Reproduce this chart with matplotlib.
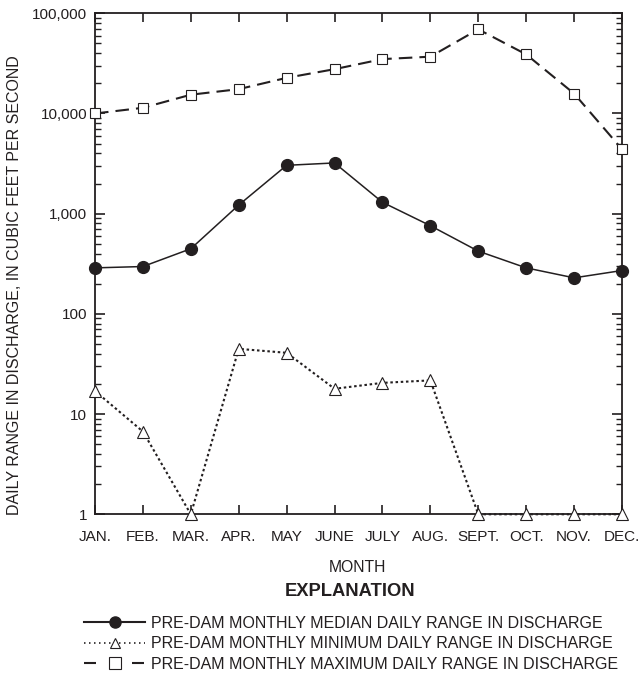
import matplotlib
matplotlib.use("Agg")
import matplotlib.pyplot as plt
from matplotlib.lines import Line2D
from matplotlib.ticker import FixedLocator, LogLocator, NullFormatter

plt.rcParams['font.family'] = ['Liberation Sans', 'DejaVu Sans']

months = ["JAN.", "FEB.", "MAR.", "APR.", "MAY", "JUNE", "JULY", "AUG.",
          "SEPT.", "OCT.", "NOV.", "DEC."]
median_range = [288, 297, 447, 1220, 3040, 3210, 1300, 759, 423, 288, 229, 271]
minimum_range = [17, 6.7, 1, 44.8, 40.9, 17.9, 20.5, 21.7, 1, 1, 1, 1]
maximum_range = [10000, 11400, 15400, 17500, 22700, 27700, 34900, 36900,
                 69200, 38900, 15800, 4400]
ytick_values = [1, 10, 100, 1000, 10000, 100000]
ytick_labels = ["1", "10", "100", "1,000", "10,000", "100,000"]
legend_labels = ["PRE-DAM MONTHLY MEDIAN DAILY RANGE IN DISCHARGE",
                 "PRE-DAM MONTHLY MINIMUM DAILY RANGE IN DISCHARGE",
                 "PRE-DAM MONTHLY MAXIMUM DAILY RANGE IN DISCHARGE"]

INK = '#231f20'
W, H = 641, 678
fig = plt.figure(figsize=(W / 100, H / 100), dpi=100)
ax = fig.add_axes([95 / W, 1 - 514.3 / H, (622 - 95) / W, (514.3 - 13.3) / H])

x = list(range(len(months)))

ax.plot(x, maximum_range, color=INK, lw=1.5, dashes=(6.5, 3.4),
        marker='s', ms=7.8, mfc='white', mec=INK, mew=0.8, clip_on=False, zorder=3)
ax.plot(x, median_range, color=INK, lw=1.1, linestyle='-',
        marker='o', ms=8.5, mfc=INK, mec=INK, clip_on=False, zorder=4)
ax.plot(x, minimum_range, color=INK, lw=1.5, dashes=(1.2, 1.3),
        marker='^', ms=8.5, mfc='white', mec=INK, mew=0.8, clip_on=False, zorder=5)

ax.set_yscale('log')
ax.set_ylim(1, 100000)
ax.set_xlim(0, len(months) - 1)
ax.yaxis.set_major_locator(FixedLocator(ytick_values))
ax.set_yticklabels(ytick_labels)
ax.yaxis.set_minor_locator(LogLocator(base=10, subs=range(2, 10)))
ax.yaxis.set_minor_formatter(NullFormatter())
ax.set_xticks(x)
ax.set_xticklabels(months)

for s in ax.spines.values():
    s.set_linewidth(1.3)
    s.set_color(INK)

ax.tick_params(axis='x', which='major', direction='in', top=True, bottom=True,
               length=6.7, width=1.2, color=INK, pad=11.5, labelsize=11, labelcolor=INK)
ax.tick_params(axis='y', which='major', direction='in', left=True, right=True,
               length=7.2, width=1.2, color=INK, pad=5.5, labelsize=11, labelcolor=INK)
ax.tick_params(axis='y', which='minor', direction='in', left=True, right=True,
               length=4, width=1.0, color=INK)

ax.set_ylabel("DAILY RANGE IN DISCHARGE, IN CUBIC FEET PER SECOND",
              fontsize=11.5, color=INK)
ax.yaxis.set_label_coords(-0.138, 0.458)

fig.text(357 / W, 1 - 568 / H, "MONTH", ha='center', va='center',
         fontsize=11.3, color=INK)
fig.text(350 / W, 1 - 592 / H, "EXPLANATION", ha='center', va='center',
         fontsize=13.2, fontweight='bold', color=INK)

handles = [
    Line2D([], [], color=INK, lw=1.5, linestyle='-', marker='o', ms=8,
           mfc=INK, mec=INK),
    Line2D([], [], color=INK, lw=1.2, dashes=(0.9, 2.1), marker='^', ms=7,
           mfc='white', mec=INK, mew=0.8),
    Line2D([], [], color=INK, lw=1.5, dashes=(5.76, 17.28), marker='s', ms=8,
           mfc='white', mec=INK, mew=0.8),
]
fs = 11.5
leg = fig.legend(handles, legend_labels, loc='upper left',
                 bbox_to_anchor=(84 / W, 1 - 616 / H), frameon=False,
                 fontsize=fs, handlelength=61 / (fs * 100 / 72),
                 handletextpad=0.4, labelspacing=0.33, borderpad=0,
                 borderaxespad=0, numpoints=1)
for t in leg.get_texts():
    t.set_color(INK)

fig.savefig("out.png", dpi=100)
